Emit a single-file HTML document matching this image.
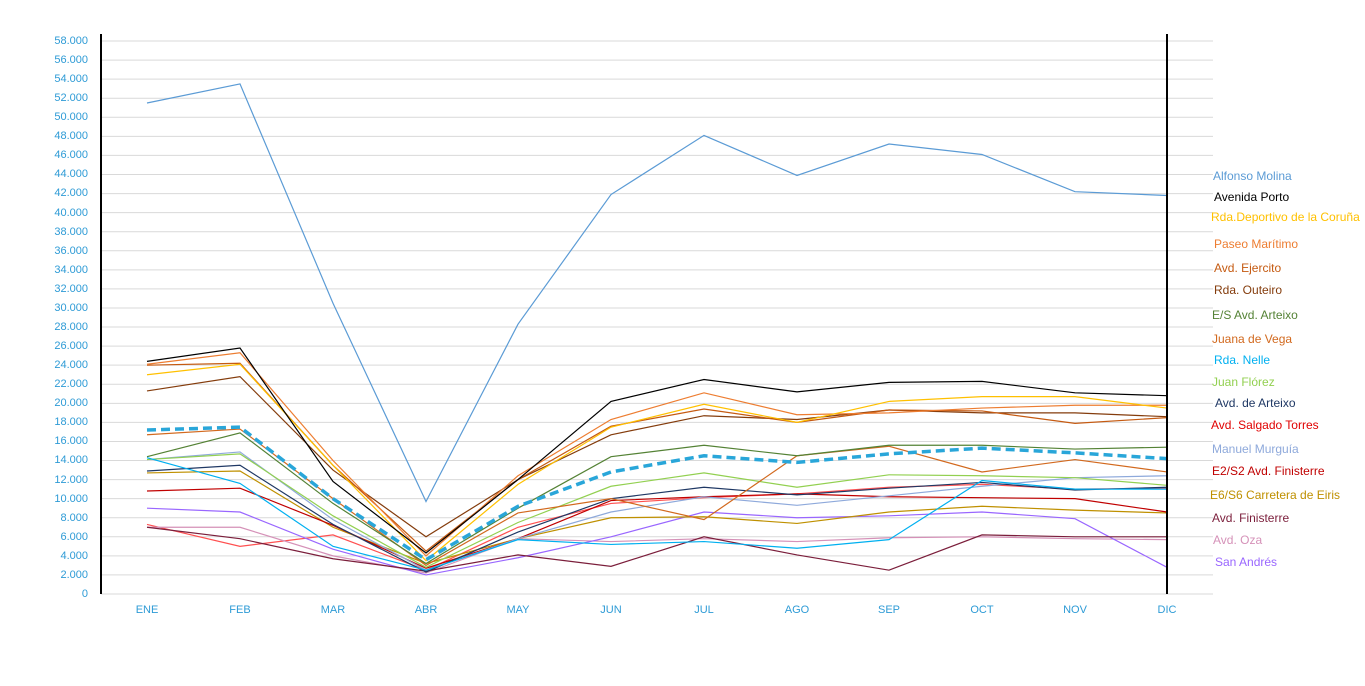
<!DOCTYPE html>
<html><head><meta charset="utf-8"><style>
body{margin:0;background:#fff;width:1365px;height:686px;overflow:hidden;font-family:"Liberation Sans",sans-serif}
.yl{position:absolute;right:1277px;font-size:11px;color:#2e9bd6;line-height:12px}
.xl{position:absolute;top:604px;font-size:11px;color:#2e9bd6;width:40px;margin-left:-20px;text-align:center}
.lg{position:absolute;font-size:12px;line-height:14px;white-space:nowrap}
</style></head><body>
<svg width="1365" height="686" style="position:absolute;left:0;top:0">
<g transform="translate(0,594) scale(1,-9.534)" fill="none">
<path vector-effect="non-scaling-stroke" stroke="#d9d9d9" stroke-width="1" d="M101 0H1213M101 2H1213M101 4H1213M101 6H1213M101 8H1213M101 10H1213M101 12H1213M101 14H1213M101 16H1213M101 18H1213M101 20H1213M101 22H1213M101 24H1213M101 26H1213M101 28H1213M101 30H1213M101 32H1213M101 34H1213M101 36H1213M101 38H1213M101 40H1213M101 42H1213M101 44H1213M101 46H1213M101 48H1213M101 50H1213M101 52H1213M101 54H1213M101 56H1213M101 58H1213"/>
<g stroke-width="1.2">
<polyline vector-effect="non-scaling-stroke" stroke="#5b9bd5" points="147,51.5 240,53.5 333,30.5 426,9.7 518,28.3 611,41.9 704,48.1 797,43.9 889,47.2 982,46.1 1075,42.2 1167,41.8"/>
<polyline vector-effect="non-scaling-stroke" stroke="#ff5050" points="147,7.3 240,5.0 333,6.2 426,2.5 518,7.0 611,9.5 704,10.1 797,10.5 889,11.2 982,11.5 1075,11.0 1167,11.1"/>
<polyline vector-effect="non-scaling-stroke" stroke="#d591b8" points="147,7.0 240,7.0 333,4.0 426,2.2 518,5.8 611,5.5 704,5.8 797,5.5 889,5.9 982,6.0 1075,5.8 1167,5.7"/>
<polyline vector-effect="non-scaling-stroke" stroke="#9966ff" points="147,9.0 240,8.6 333,4.7 426,2.0 518,3.8 611,6.0 704,8.6 797,8.0 889,8.2 982,8.6 1075,7.9 1167,2.8"/>
<polyline vector-effect="non-scaling-stroke" stroke="#7b1e3b" points="147,7.0 240,5.8 333,3.7 426,2.4 518,4.1 611,2.9 704,6.0 797,4.1 889,2.5 982,6.2 1075,6.0 1167,6.0"/>
<polyline vector-effect="non-scaling-stroke" stroke="#bf9000" points="147,12.7 240,12.9 333,7.0 426,3.2 518,5.8 611,8.0 704,8.1 797,7.4 889,8.6 982,9.2 1075,8.8 1167,8.5"/>
<polyline vector-effect="non-scaling-stroke" stroke="#c00000" points="147,10.8 240,11.1 333,7.2 426,2.7 518,5.8 611,9.8 704,10.2 797,10.5 889,10.2 982,10.1 1075,10.0 1167,8.6"/>
<polyline vector-effect="non-scaling-stroke" stroke="#8ea9db" points="147,14.1 240,14.9 333,7.8 426,2.5 518,5.8 611,8.6 704,10.2 797,9.3 889,10.3 982,11.3 1075,12.2 1167,12.4"/>
<polyline vector-effect="non-scaling-stroke" stroke="#1f3864" points="147,12.9 240,13.5 333,7.3 426,2.3 518,6.5 611,10.0 704,11.2 797,10.4 889,11.1 982,11.7 1075,10.9 1167,11.2"/>
<polyline vector-effect="non-scaling-stroke" stroke="#92d050" points="147,14.1 240,14.7 333,8.2 426,2.8 518,7.5 611,11.3 704,12.7 797,11.2 889,12.5 982,12.4 1075,12.2 1167,11.4"/>
<polyline vector-effect="non-scaling-stroke" stroke="#00b0f0" points="147,14.3 240,11.6 333,5.0 426,2.5 518,5.7 611,5.2 704,5.5 797,4.8 889,5.7 982,11.9 1075,11.0 1167,11.0"/>
<polyline vector-effect="non-scaling-stroke" stroke="#d2691e" points="147,16.7 240,17.3 333,10.0 426,3.0 518,8.5 611,10.0 704,7.8 797,14.5 889,15.5 982,12.8 1075,14.1 1167,12.8"/>
<polyline vector-effect="non-scaling-stroke" stroke="#548235" points="147,14.4 240,16.9 333,9.5 426,3.2 518,9.0 611,14.4 704,15.6 797,14.5 889,15.6 982,15.6 1075,15.2 1167,15.4"/>
<polyline vector-effect="non-scaling-stroke" stroke="#843c0c" points="147,21.3 240,22.8 333,13.0 426,6.0 518,12.0 611,16.7 704,18.7 797,18.3 889,19.3 982,19.0 1075,19.0 1167,18.6"/>
<polyline vector-effect="non-scaling-stroke" stroke="#c55a11" points="147,24.0 240,24.2 333,13.5 426,4.5 518,12.0 611,17.6 704,19.4 797,18.0 889,19.3 982,19.2 1075,17.9 1167,18.5"/>
<polyline vector-effect="non-scaling-stroke" stroke="#ed7d31" points="147,24.1 240,25.3 333,14.0 426,4.0 518,12.4 611,18.3 704,21.1 797,18.8 889,19.0 982,19.5 1075,19.8 1167,19.8"/>
<polyline vector-effect="non-scaling-stroke" stroke="#ffc000" points="147,23.0 240,24.1 333,13.5 426,3.5 518,11.5 611,17.5 704,19.9 797,18.0 889,20.2 982,20.7 1075,20.7 1167,19.5"/>
<polyline vector-effect="non-scaling-stroke" stroke="#000" points="147,24.4 240,25.8 333,11.8 426,4.3 518,12.0 611,20.2 704,22.5 797,21.2 889,22.2 982,22.3 1075,21.1 1167,20.8"/>
<polyline vector-effect="non-scaling-stroke" stroke="#29a6d9" stroke-width="3.5" stroke-dasharray="9,5" points="147,17.2 240,17.5 333,10.0 426,3.6 518,9.2 611,12.8 704,14.5 797,13.8 889,14.7 982,15.3 1075,14.8 1167,14.2"/>
</g></g>
<line x1="101" y1="34" x2="101" y2="594" stroke="#000" stroke-width="2"/>
<line x1="1167" y1="34" x2="1167" y2="594" stroke="#000" stroke-width="2"/>
</svg>
<div class="yl" style="top:588px">0</div><div class="yl" style="top:569px">2.000</div><div class="yl" style="top:550px">4.000</div><div class="yl" style="top:531px">6.000</div><div class="yl" style="top:512px">8.000</div><div class="yl" style="top:493px">10.000</div><div class="yl" style="top:474px">12.000</div><div class="yl" style="top:454px">14.000</div><div class="yl" style="top:435px">16.000</div><div class="yl" style="top:416px">18.000</div><div class="yl" style="top:397px">20.000</div><div class="yl" style="top:378px">22.000</div><div class="yl" style="top:359px">24.000</div><div class="yl" style="top:340px">26.000</div><div class="yl" style="top:321px">28.000</div><div class="yl" style="top:302px">30.000</div><div class="yl" style="top:283px">32.000</div><div class="yl" style="top:264px">34.000</div><div class="yl" style="top:245px">36.000</div><div class="yl" style="top:226px">38.000</div><div class="yl" style="top:207px">40.000</div><div class="yl" style="top:187px">42.000</div><div class="yl" style="top:168px">44.000</div><div class="yl" style="top:149px">46.000</div><div class="yl" style="top:130px">48.000</div><div class="yl" style="top:111px">50.000</div><div class="yl" style="top:92px">52.000</div><div class="yl" style="top:73px">54.000</div><div class="yl" style="top:54px">56.000</div><div class="yl" style="top:35px">58.000</div>
<div class="xl" style="left:147px">ENE</div><div class="xl" style="left:240px">FEB</div><div class="xl" style="left:333px">MAR</div><div class="xl" style="left:426px">ABR</div><div class="xl" style="left:518px">MAY</div><div class="xl" style="left:611px">JUN</div><div class="xl" style="left:704px">JUL</div><div class="xl" style="left:797px">AGO</div><div class="xl" style="left:889px">SEP</div><div class="xl" style="left:982px">OCT</div><div class="xl" style="left:1075px">NOV</div><div class="xl" style="left:1167px">DIC</div>
<div class="lg" style="left:1213px;top:169px;color:#5b9bd5">Alfonso Molina</div>
<div class="lg" style="left:1214px;top:190px;color:#000">Avenida Porto</div>
<div class="lg" style="left:1211px;top:210px;color:#ffc000">Rda.Deportivo de la Coruña</div>
<div class="lg" style="left:1214px;top:237px;color:#ed7d31">Paseo Marítimo</div>
<div class="lg" style="left:1214px;top:261px;color:#c55a11">Avd. Ejercito</div>
<div class="lg" style="left:1214px;top:283px;color:#843c0c">Rda. Outeiro</div>
<div class="lg" style="left:1212px;top:308px;color:#548235">E/S Avd. Arteixo</div>
<div class="lg" style="left:1212px;top:332px;color:#d2691e">Juana de Vega</div>
<div class="lg" style="left:1214px;top:353px;color:#00b0f0">Rda. Nelle</div>
<div class="lg" style="left:1212px;top:375px;color:#92d050">Juan Flórez</div>
<div class="lg" style="left:1215px;top:396px;color:#1f3864">Avd. de Arteixo</div>
<div class="lg" style="left:1211px;top:418px;color:#e00000">Avd. Salgado Torres</div>
<div class="lg" style="left:1212px;top:442px;color:#8ea9db">Manuel Murguía</div>
<div class="lg" style="left:1212px;top:464px;color:#c00000">E2/S2 Avd. Finisterre</div>
<div class="lg" style="left:1210px;top:488px;color:#bf9000">E6/S6 Carretera de Eiris</div>
<div class="lg" style="left:1212px;top:511px;color:#7b1e3b">Avd. Finisterre</div>
<div class="lg" style="left:1213px;top:533px;color:#d591b8">Avd. Oza</div>
<div class="lg" style="left:1215px;top:555px;color:#9966ff">San Andrés</div>
</body></html>
